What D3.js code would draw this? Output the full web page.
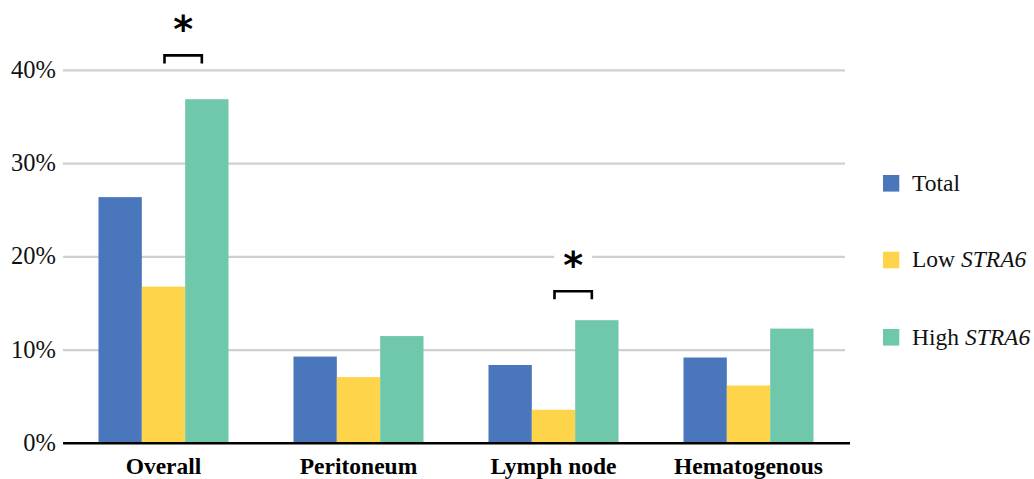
<!DOCTYPE html>
<html>
<head>
<meta charset="utf-8">
<script src="https://cdn.jsdelivr.net/npm/d3@7"></script>
<style>
  html, body { margin: 0; padding: 0; background: #fff; }
  svg { display: block; }
  .serif { font-family: 'Liberation Serif', 'Times New Roman', serif; }
</style>
</head>
<body>
<svg id="chart" width="1034" height="479"></svg>
<script>
const categories = ['Overall', 'Peritoneum', 'Lymph node', 'Hematogenous'];
const seriesKeys = ['Total', 'Low', 'High'];
const totalValues = [26.4, 9.3, 8.4, 9.2];
const lowValues   = [16.8, 7.1, 3.6, 6.2];
const highValues  = [36.9, 11.5, 13.2, 12.3];
const yTicks = [0, 10, 20, 30, 40];

// significance marks: category, bracket level and star level (in %)
const sigCategories = ['Overall', 'Lymph node'];
const sigBracket    = [41.6, 16.3];
const sigStar       = [44.9, 19.6];

const COLORS = { Total: '#4a76bb', Low: '#fed44b', High: '#6fc8ab' };

const left = 63, right = 845, baseY = 443.3, topY = 70.3;

const svg = d3.select('#chart');

const x = d3.scaleBand().domain(categories).range([66, 846]).paddingInner(1 / 3).paddingOuter(1 / 6);
const xs = d3.scaleBand().domain(seriesKeys).range([0, x.bandwidth()]);
const y = d3.scaleLinear().domain([0, 40]).range([baseY, topY]);

const rows = categories.map((c, i) => ({ cat: c, Total: totalValues[i], Low: lowValues[i], High: highValues[i] }));

// grid
svg.append('g').selectAll('line').data(yTicks.filter(t => t > 0)).enter().append('line')
  .attr('x1', left).attr('x2', right)
  .attr('y1', d => y(d)).attr('y2', d => y(d))
  .attr('stroke', '#d0d0d0').attr('stroke-width', 2.2);

// y labels
svg.append('g').selectAll('text').data(yTicks).enter().append('text')
  .attr('class', 'serif')
  .attr('x', 56).attr('y', d => y(d) + 7.6)
  .attr('text-anchor', 'end')
  .attr('font-size', 24.5).attr('fill', '#111')
  .text(d => d + '%');

// bars
const grp = svg.append('g').selectAll('g').data(rows).enter().append('g')
  .attr('transform', d => `translate(${x(d.cat)},0)`);
grp.selectAll('rect').data(d => seriesKeys.map(k => ({ k, v: d[k] }))).enter().append('rect')
  .attr('x', d => xs(d.k)).attr('width', xs.bandwidth())
  .attr('y', d => y(d.v)).attr('height', d => baseY - y(d.v))
  .attr('fill', d => COLORS[d.k]);

// baseline
svg.append('line').attr('x1', left).attr('x2', 850).attr('y1', baseY).attr('y2', baseY)
  .attr('stroke', '#000').attr('stroke-width', 2.6);

// category labels
svg.append('g').selectAll('text').data(categories).enter().append('text')
  .attr('class', 'serif')
  .attr('x', d => x(d) + x.bandwidth() / 2).attr('y', 474)
  .attr('text-anchor', 'middle')
  .attr('font-size', 23.5).attr('font-weight', 'bold').attr('fill', '#000')
  .text(d => d);

// significance brackets
sigCategories.forEach((c, i) => {
  const x0 = x(c) + xs('Low') + xs.bandwidth() / 2 + 1;
  const x1 = x(c) + xs('High') + xs.bandwidth() / 2 - 5;
  const by = y(sigBracket[i]);
  svg.append('path')
    .attr('d', `M${x0},${by + 8}V${by}H${x1}V${by + 8}`)
    .attr('fill', 'none').attr('stroke', '#000').attr('stroke-width', 2.6);
  const cx = (x0 + x1) / 2, sy = y(sigStar[i]);
  svg.append('rect').attr('x', cx - 19).attr('y', sy - 16).attr('width', 38).attr('height', 30).attr('fill', '#fff');
  svg.append('text').attr('x', cx).attr('y', sy + 17)
    .attr('text-anchor', 'middle')
    .style('font-family', "'DejaVu Sans', sans-serif")
    .attr('font-size', 38).attr('font-weight', 'bold').attr('fill', '#000')
    .text('*');
});

// legend
const legendY = [183.3, 260, 337.3];
const legendLabels = [['Total', ''], ['Low ', 'STRA6'], ['High ', 'STRA6']];
const lg = svg.append('g').selectAll('g').data(seriesKeys).enter().append('g')
  .attr('transform', (d, i) => `translate(883,${legendY[i]})`);
lg.append('rect').attr('x', 0).attr('y', -8.3).attr('width', 16.3).attr('height', 16.6)
  .attr('fill', d => COLORS[d]);
const lt = lg.append('text').attr('class', 'serif').attr('x', 29).attr('y', 7.3)
  .attr('font-size', 23.5).attr('fill', '#111');
lt.append('tspan').text((d, i) => legendLabels[i][0]);
lt.append('tspan').attr('font-style', 'italic').text((d, i) => legendLabels[i][1]);
</script>
</body>
</html>
